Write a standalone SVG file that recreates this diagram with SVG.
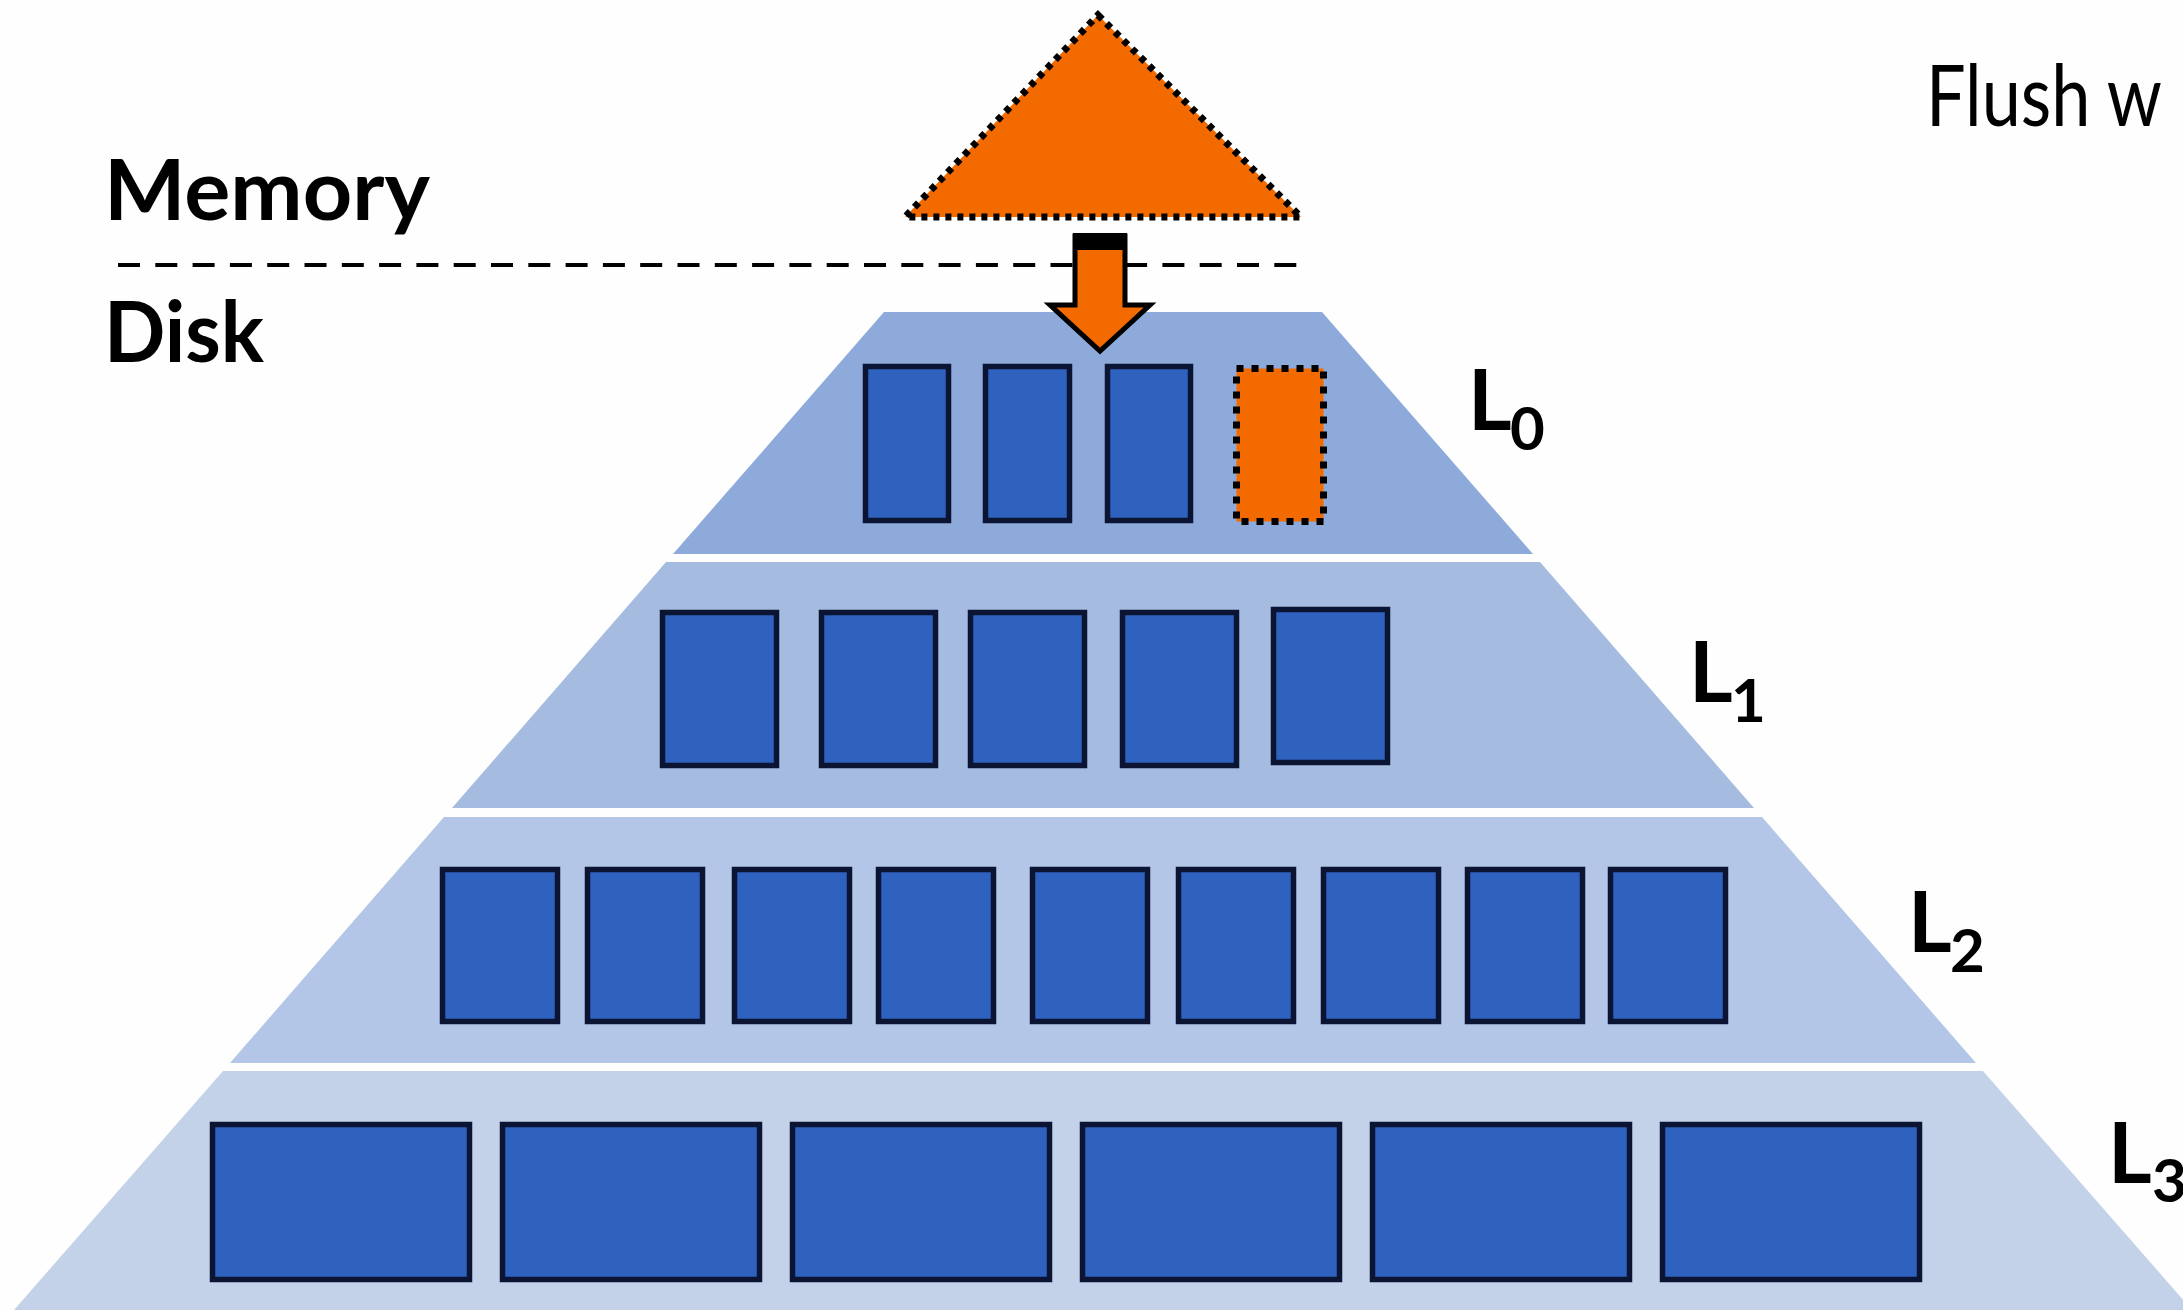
<svg xmlns="http://www.w3.org/2000/svg" width="2183" height="1310" viewBox="0 0 2183 1310">
  <defs>
    <style>
      .band0 { fill: #8eaadb; }
      .band1 { fill: #a5bbe0; }
      .band2 { fill: #b4c6e7; }
      .band3 { fill: #c4d2e9; }
      .sst { fill: #2f62be; stroke: #0b1533; stroke-width: 5.5; }
      .new { fill: #f26a00; stroke: #000; stroke-width: 7; stroke-dasharray: 7 8; }
      .label { font-family: Lato, "Liberation Sans", Arial, sans-serif; font-weight: bold; fill: #000; }
      .lvl { font-family: Lato, "Liberation Sans", Arial, sans-serif; font-weight: bold; fill: #000; }
    </style>
  </defs>
  <rect width="2183" height="1310" fill="#fdfefd"/>

  <!-- LSM levels on disk -->
  <g id="level-L0">
    <polygon class="band0" points="884,312 1322,312 1533,554 673,554"/>
    <rect class="sst" x="865.5" y="366.5" width="83" height="154"/>
    <rect class="sst" x="985.5" y="366.5" width="84" height="154"/>
    <rect class="sst" x="1107.5" y="366.5" width="83" height="154"/>
    <rect class="new" x="1236.5" y="368.5" width="87" height="153"/>
    <text class="lvl" x="1468" y="430" font-size="84">L</text>
    <text class="lvl" x="1510" y="450" font-size="60">0</text>
  </g>
  <g id="level-L1">
    <polygon class="band1" points="666,562 1540,562 1754,808 452,808"/>
    <rect class="sst" x="662.5" y="612.5" width="114" height="153"/>
    <rect class="sst" x="821.5" y="612.5" width="114" height="153"/>
    <rect class="sst" x="970.5" y="612.5" width="114" height="153"/>
    <rect class="sst" x="1122.5" y="612.5" width="114" height="153"/>
    <rect class="sst" x="1273.5" y="609.5" width="114" height="153"/>
    <text class="lvl" x="1689" y="702" font-size="84">L</text>
    <text class="lvl" x="1731" y="722" font-size="60">1</text>
  </g>
  <g id="level-L2">
    <polygon class="band2" points="444,817 1762,817 1976,1063 230,1063"/>
    <rect class="sst" x="442.5" y="869.5" width="115" height="152"/>
    <rect class="sst" x="587.5" y="869.5" width="115" height="152"/>
    <rect class="sst" x="734.5" y="869.5" width="115" height="152"/>
    <rect class="sst" x="878.5" y="869.5" width="115" height="152"/>
    <rect class="sst" x="1032.5" y="869.5" width="115" height="152"/>
    <rect class="sst" x="1178.5" y="869.5" width="115" height="152"/>
    <rect class="sst" x="1323.5" y="869.5" width="115" height="152"/>
    <rect class="sst" x="1467.5" y="869.5" width="115" height="152"/>
    <rect class="sst" x="1610.5" y="869.5" width="115" height="152"/>
    <text class="lvl" x="1908" y="952" font-size="84">L</text>
    <text class="lvl" x="1950" y="972" font-size="60">2</text>
  </g>
  <g id="level-L3">
    <polygon class="band3" points="223,1071 1983,1071 2192,1310 14,1310"/>
    <rect class="sst" x="212.5" y="1124.5" width="257" height="155"/>
    <rect class="sst" x="502.5" y="1124.5" width="257" height="155"/>
    <rect class="sst" x="792.5" y="1124.5" width="257" height="155"/>
    <rect class="sst" x="1082.5" y="1124.5" width="257" height="155"/>
    <rect class="sst" x="1372.5" y="1124.5" width="257" height="155"/>
    <rect class="sst" x="1662.5" y="1124.5" width="257" height="155"/>
    <text class="lvl" x="2108" y="1183" font-size="84">L</text>
    <text class="lvl" x="2152" y="1202" font-size="60">3</text>
  </g>

  <!-- in-memory buffer -->
  <g id="memtable">
    <polygon points="1098,15 1301,217 905,217" fill="#f26a00" stroke="#000" stroke-width="7" stroke-dasharray="6 6"/>
  </g>

  <!-- memory / disk boundary -->
  <g id="boundary">
    <line x1="118" y1="265" x2="1305" y2="265" stroke="#000" stroke-width="4" stroke-dasharray="22 15.3"/>
    <text class="label" x="104" y="220" font-size="84" textLength="326" lengthAdjust="spacingAndGlyphs">Memory</text>
    <text class="label" x="104" y="362" font-size="84" textLength="160" lengthAdjust="spacingAndGlyphs">Disk</text>
  </g>

  <text id="caption" x="1926" y="126" font-family="Lato, 'Liberation Sans', Arial, sans-serif" font-size="86" fill="#000" textLength="236" lengthAdjust="spacingAndGlyphs">Flush w</text>

  <!-- flush arrow -->
  <g id="connectors">
    <polygon points="1075,236 1125,236 1125,305 1150,305 1100,351 1050,305 1075,305" fill="#f26a00" stroke="#000" stroke-width="5" stroke-linejoin="miter"/>
    <rect x="1073" y="233" width="54" height="17" fill="#000"/>
  </g>
</svg>
